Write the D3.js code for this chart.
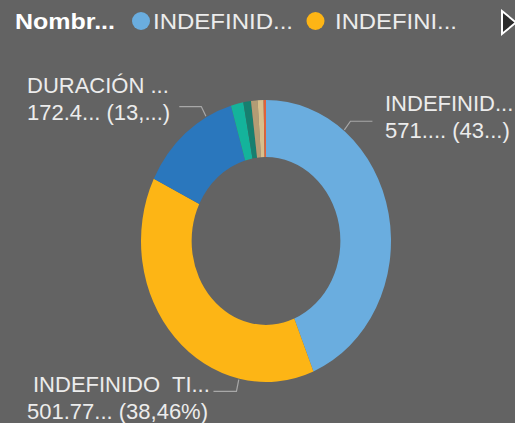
<!DOCTYPE html>
<html>
<head>
<meta charset="utf-8">
<script src="https://cdn.jsdelivr.net/npm/d3@7"></script>
<style>
  html, body { margin: 0; padding: 0; background: #636363; }
  svg { display: block; }
  text { font-family: "Liberation Sans", Arial, sans-serif; white-space: pre; }
</style>
</head>
<body>
<script>
// slice data, clockwise from 12 o'clock
var names = ["INDEFINIDO", "INDEFINIDO TIEMPO", "DURACIÓN DETERMINADA", "OTROS 1", "OTROS 2", "OTROS 3", "OTROS 4", "OTROS 5"];
var values = [571.5, 501.77, 172.4, 21, 13, 11, 10, 4];
var colors = ["#6AADDF", "#FDB515", "#2A77BD", "#14B39B", "#167F6F", "#B39C74", "#D8BF8B", "#E0623A"];

// labels: slice index, two text lines
var labelRows = [
    {i: 0, l1: "INDEFINID...", l2: "571.... (43...)"},
    {i: 1, l1: "INDEFINIDO  TI...", l2: "501.77... (38,46%)"},
    {i: 2, l1: "DURACIÓN ...", l2: "172.4... (13,...)"}
];
var legendTitle = "Nombr...";
var legendItems = [
    {i: 0, text: "INDEFINID..."},
    {i: 1, text: "INDEFINI..."}
];

var width = 515, height = 423;
var cx = 266, cy = 241;
var ry = 141, rx = 125, innerFrac = 0.595;
var sx = rx / ry;

var svg = d3.select("body").append("svg")
    .attr("width", width)
    .attr("height", height);

svg.append("rect").attr("width", width).attr("height", height).attr("fill", "#636363");

var pie = d3.pie().sort(null).value(function (d) { return d; });
var arcs = pie(values);
var arc = d3.arc().innerRadius(ry * innerFrac).outerRadius(ry);

var donut = svg.append("g")
    .attr("transform", "translate(" + cx + "," + cy + ") scale(" + sx + ",1)");

donut.selectAll("path")
    .data(arcs)
    .enter().append("path")
    .attr("d", arc)
    .attr("fill", function (d, i) { return colors[i]; });

// point on the (squashed) donut at angle a (radians from top, clockwise)
function pt(a, r) {
    return [cx + sx * r * Math.sin(a), cy - r * Math.cos(a)];
}

// leader line layout: where the line touches the ring and where its label sits
var leaderLayout = {
    0: {deg: 38.5, elbow: 12, run: 22, tx: 385, ty: 111},
    1: {deg: 192.5, elbow: 13, run: -23, tx: 33, ty: 392, tx2: 27},
    2: {deg: 331.5, elbow: 12, run: -22, tx: 27, ty: 93}
};

var lab = svg.append("g");
labelRows.forEach(function (row) {
    var L = leaderLayout[row.i];
    var a = L.deg * Math.PI / 180;
    var p0 = pt(a, ry + 1);
    var p1 = pt(a, ry + L.elbow);
    var p2 = [p1[0] + L.run, p1[1]];
    lab.append("path")
        .attr("d", "M" + p0.join(",") + "L" + p1.join(",") + "L" + p2.join(","))
        .attr("fill", "none")
        .attr("stroke", "#a8a8a8")
        .attr("stroke-width", 1.2);
    lab.append("text")
        .attr("x", L.tx).attr("y", L.ty)
        .attr("fill", "#ececec")
        .attr("font-size", 22)
        .text(row.l1);
    lab.append("text")
        .attr("x", L.tx2 || L.tx).attr("y", L.ty + 27)
        .attr("fill", "#ececec")
        .attr("font-size", 22)
        .text(row.l2);
});

// legend
var legend = svg.append("g");
legend.append("text")
    .attr("x", 15).attr("y", 29)
    .attr("fill", "#ffffff")
    .attr("font-size", 22)
    .attr("font-weight", "bold")
    .attr("textLength", 100)
    .attr("lengthAdjust", "spacingAndGlyphs")
    .text(legendTitle);
var legendPos = [{cx: 141, tx: 153, w: 140}, {cx: 315.5, tx: 335, w: 122}];
legendItems.forEach(function (it, k) {
    legend.append("circle")
        .attr("cx", legendPos[k].cx).attr("cy", 21).attr("r", 9)
        .attr("fill", colors[it.i]);
    legend.append("text")
        .attr("x", legendPos[k].tx).attr("y", 29)
        .attr("fill", "#ececec")
        .attr("font-size", 22)
        .attr("textLength", legendPos[k].w)
        .attr("lengthAdjust", "spacingAndGlyphs")
        .text(it.text);
});
legend.append("path")
    .attr("d", "M502,11L516,22.5L502,34Z")
    .attr("fill", "#2a2a2a")
    .attr("stroke", "#ffffff")
    .attr("stroke-width", 2);
</script>
</body>
</html>
